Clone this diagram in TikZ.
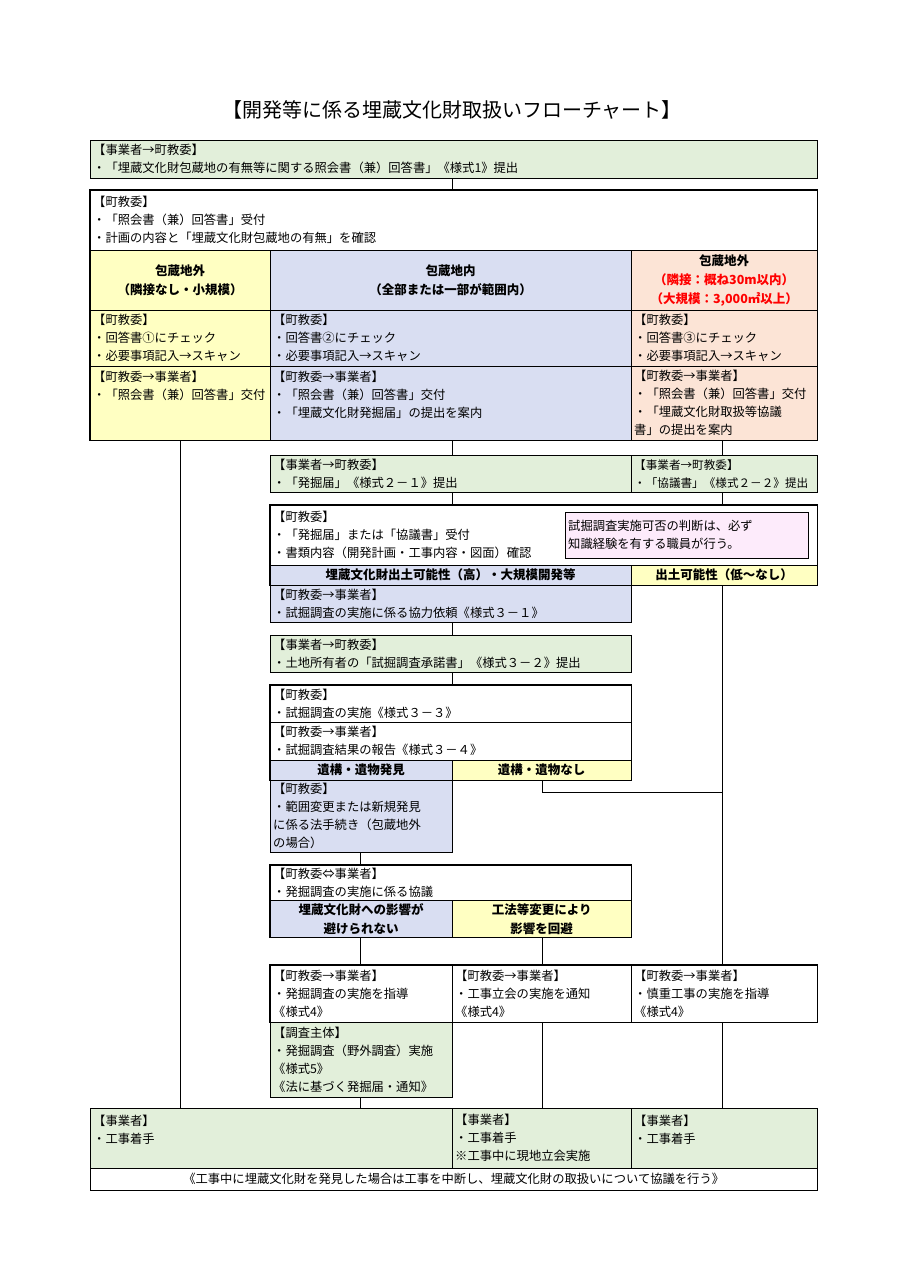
\documentclass[tikz,border=0pt]{standalone}
\usepackage{fontspec}
\setmainfont{Noto Sans CJK JP}
\usetikzlibrary{positioning}
\definecolor{grn}{HTML}{E2EFDA}
\definecolor{ylw}{HTML}{FFFFC2}
\definecolor{lav}{HTML}{D9DEF2}
\definecolor{sal}{HTML}{FCE4D6}
\definecolor{pnk}{HTML}{FDEBFB}
\begin{document}
\begin{tikzpicture}[x=1pt,y=-1pt]
\tikzset{
  every node/.style={font=\fontsize{12.3}{18}\selectfont},
  bx/.style n args={2}{draw,anchor=north west,align=left,inner xsep=3pt,inner ysep=0pt,
    text width=#1pt-6pt,minimum height=#2pt},
  hd/.style={font=\bfseries\fontsize{12.5}{19}\selectfont,align=center},
  frame/.style={draw,very thick},
  link/.style={draw,thin}
}
\useasboundingbox (0,0) rectangle (905,1280);
% column x positions
\coordinate (xa) at (180,0);
\coordinate (xb) at (360,0);
\coordinate (xm) at (452,0);
\coordinate (xc) at (542,0);
\coordinate (xr) at (722,0);

%TITLE
\node[font=\fontsize{20}{24}\selectfont] (title) at (452,110) {【開発等に係る埋蔵文化財取扱いフローチャート】};

%START
\node[bx={727}{38},fill=grn] (req) at (90,140) {【事業者→町教委】\\・「埋蔵文化財包蔵地の有無等に関する照会書（兼）回答書」《様式1》提出};
\node[bx={727}{60}] (recv) at (90,190) {【町教委】\\・「照会書（兼）回答書」受付\\・計画の内容と「埋蔵文化財包蔵地の有無」を確認};

%THREE CASES
\node[bx={180}{60},fill=ylw,hd] (outA) at (90,250) {包蔵地外\\（隣接なし・小規模）};
\node[bx={361}{60},fill=lav,hd] (inB) at (270,250) {包蔵地内\\（全部または一部が範囲内）};
\node[bx={186}{60},fill=sal,hd] (outC) at (631,250) {包蔵地外\\\textcolor{red}{（隣接：概ね30m以内）}\\\textcolor{red}{（大規模：3,000㎡以上）}};
\node[bx={180}{56},fill=ylw] (chkA) at (90,310) {【町教委】\\・回答書①にチェック\\・必要事項記入→スキャン};
\node[bx={361}{56},fill=lav] (chkB) at (270,310) {【町教委】\\・回答書②にチェック\\・必要事項記入→スキャン};
\node[bx={186}{56},fill=sal] (chkC) at (631,310) {【町教委】\\・回答書③にチェック\\・必要事項記入→スキャン};
\node[bx={180}{74},fill=ylw] (isA) at (90,366) {【町教委→事業者】\\・「照会書（兼）回答書」交付\\\mbox{}\\\mbox{}};
\node[bx={361}{74},fill=lav] (isB) at (270,366) {【町教委→事業者】\\・「照会書（兼）回答書」交付\\・「埋蔵文化財発掘届」の提出を案内\\\mbox{}};
\node[bx={186}{74},fill=sal] (isC) at (631,366) {【町教委→事業者】\\・「照会書（兼）回答書」交付\\・「埋蔵文化財取扱等協議\\書」の提出を案内};
\draw[frame] (recv.north west) rectangle (isC.south east);

%SUBMISSIONS
\node[bx={361}{37},fill=grn] (subB) at (270,455) {【事業者→町教委】\\・「発掘届」《様式２－１》提出};
\node[bx={186}{37},fill=grn,font=\fontsize{11.6}{18}\selectfont] (subC) at (631,455) {【事業者→町教委】\\・「協議書」《様式２－２》提出};

%CHECK
\node[bx={547}{60}] (doc) at (270,505) {【町教委】\\・「発掘届」または「協議書」受付\\・書類内容（開発計画・工事内容・図面）確認};
\node[bx={243}{46},fill=pnk,align=left] (note) at (565,512) {試掘調査実施可否の判断は、必ず\\知識経験を有する職員が行う。};
\node[bx={361}{20},fill=lav,hd] (high) at (270,565) {埋蔵文化財出土可能性（高）・大規模開発等};
\node[bx={186}{20},fill=ylw,hd] (low) at (631,565) {出土可能性（低～なし）};
\draw[frame] (doc.north west) rectangle (low.south east);
\node[bx={361}{37},fill=lav] (ask) at (270,585) {【町教委→事業者】\\・試掘調査の実施に係る協力依頼《様式３－１》};
\node[bx={361}{37},fill=grn] (agree) at (270,635) {【事業者→町教委】\\・土地所有者の「試掘調査承諾書」《様式３－２》提出};

%TRIAL DIG
\node[bx={361}{37}] (trial) at (270,685) {【町教委】\\・試掘調査の実施《様式３－３》};
\node[bx={361}{38}] (report) at (270,722) {【町教委→事業者】\\・試掘調査結果の報告《様式３－４》};
\node[bx={182}{20},fill=lav,hd] (found) at (270,760) {遺構・遺物発見};
\node[bx={179}{20},fill=ylw,hd] (none) at (452,760) {遺構・遺物なし};
\draw[frame] (trial.north west) rectangle (none.south east);
\node[bx={182}{72},fill=lav] (proc) at (270,780) {【町教委】\\・範囲変更または新規発見\\に係る法手続き（包蔵地外\\の場合）};

%CONSULT
\node[bx={361}{35}] (talk) at (270,865) {【町教委⇔事業者】\\・発掘調査の実施に係る協議};
\node[bx={182}{37},fill=lav,hd] (noavoid) at (270,900) {埋蔵文化財への影響が\\避けられない};
\node[bx={179}{37},fill=ylw,hd] (avoid) at (452,900) {工法等変更により\\影響を回避};
\draw[frame] (talk.north west) rectangle (avoid.south east);

%GUIDANCE
\node[bx={182}{57}] (gA) at (270,965) {【町教委→事業者】\\・発掘調査の実施を指導\\《様式4》};
\node[bx={179}{57}] (gB) at (452,965) {【町教委→事業者】\\・工事立会の実施を通知\\《様式4》};
\node[bx={186}{57}] (gC) at (631,965) {【町教委→事業者】\\・慎重工事の実施を指導\\《様式4》};
\draw[frame] (gA.north west) rectangle (gC.south east);
\node[bx={182}{75},fill=grn] (dig) at (270,1022) {【調査主体】\\・発掘調査（野外調査）実施\\《様式5》\\《法に基づく発掘届・通知》};

%START WORK
\node[bx={362}{60},fill=grn] (wA) at (90,1108) {【事業者】\\・工事着手\\\mbox{}};
\node[bx={179}{60},fill=grn] (wB) at (452,1108) {【事業者】\\・工事着手\\※工事中に現地立会実施};
\node[bx={186}{60},fill=grn] (wC) at (631,1108) {【事業者】\\・工事着手\\\mbox{}};
\node[bx={727}{22},align=center] (warn) at (90,1168) {《工事中に埋蔵文化財を発見した場合は工事を中断し、埋蔵文化財の取扱いについて協議を行う》};

%PATHS
\path[link] (xm |- req.south) -- (xm |- recv.north);
\path[link] (xa |- isA.south) -- (xa |- wA.north);
\path[link] (xm |- isB.south) -- (xm |- subB.north);
\path[link] (xr |- isC.south) -- (xr |- subC.north);
\path[link] (xm |- subB.south) -- (xm |- doc.north);
\path[link] (xr |- subC.south) -- (xr |- doc.north);
\path[link] (xr |- low.south) -- (xr |- gC.north);
\path[link] (xm |- ask.south) -- (xm |- agree.north);
\path[link] (xm |- agree.south) -- (xm |- trial.north);
\path[link] (xc |- none.south) -- ([yshift=-12pt]xc |- none.south) -- ([yshift=-12pt]xr |- none.south);
\path[link] (xb |- proc.south) -- (xb |- talk.north);
\path[link] (xb |- noavoid.south) -- (xb |- gA.north);
\path[link] (xc |- avoid.south) -- (xc |- gB.north);
\path[link] (xb |- dig.south) -- (xb |- wA.north);
\path[link] (xc |- gB.south) -- (xc |- wB.north);
\path[link] (xr |- gC.south) -- (xr |- wC.north);
\end{tikzpicture}
\end{document}
